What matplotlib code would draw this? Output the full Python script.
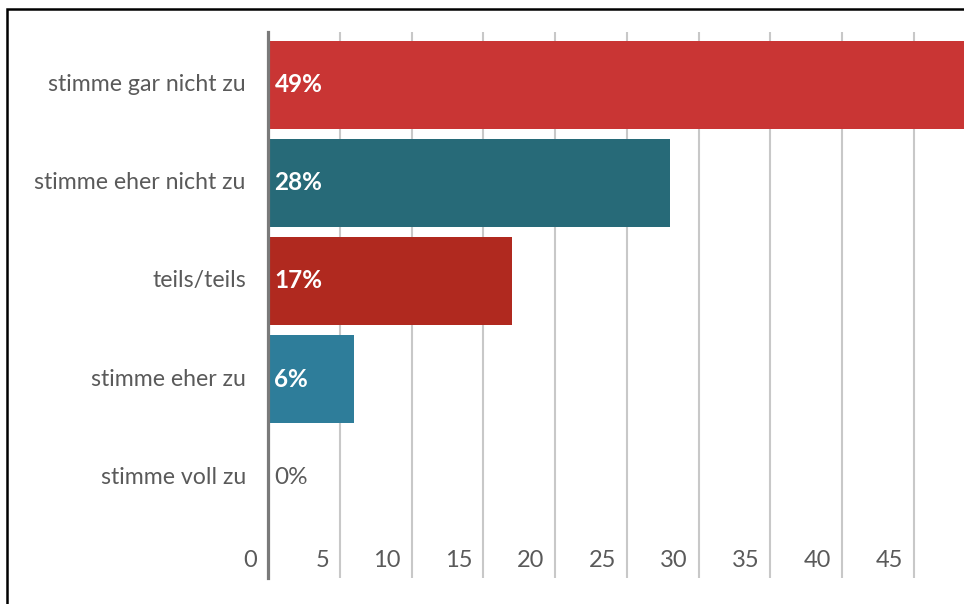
import matplotlib
matplotlib.use("Agg")
import matplotlib.pyplot as plt
from matplotlib.patches import Rectangle
from matplotlib.transforms import blended_transform_factory

# Datos
categorias = ["stimme gar nicht zu", "stimme eher nicht zu", "teils/teils",
              "stimme eher zu", "stimme voll zu"]
valores = [49, 28, 17, 6, 0]
etiquetas = ["49%", "28%", "17%", "6%", "0%"]
colores = ["#C93534", "#276A78", "#B0291F", "#2E7D9A", "#2E7D9A"]
ticks_x = [0, 5, 10, 15, 20, 25, 30, 35, 40, 45]

plt.rcParams["font.family"] = ["Lato", "DejaVu Sans"]
gris = "#5a5a5a"

fig = plt.figure(figsize=(9.64, 6.04), dpi=100)
ax = fig.add_axes([268 / 964, 26 / 604, 1 - 268 / 964, 546 / 604])

# Marco negro (captura recortada)
fig.patches.append(Rectangle((7 / 964, -0.1), 1.2, 1 - 9 / 604 + 0.1,
                             transform=fig.transFigure, fill=False,
                             edgecolor="black", linewidth=1.8, zorder=0))

pos = list(range(len(categorias)))
ax.barh(pos, valores, height=0.89, color=colores, zorder=2)

ax.set_xlim(0, 48.5)
ax.set_ylim(len(categorias) - 1 + 1.03, -0.54)

# Rejilla vertical
for t in ticks_x[1:]:
    ax.axvline(t, color="#c8c8c8", linewidth=1.5, zorder=1)
ax.axvline(0, color="#7a7a7a", linewidth=2.3, zorder=3, clip_on=False)

# Etiquetas del eje x dentro del área, a la izquierda de cada línea
trans = blended_transform_factory(ax.transData, ax.transAxes)
for t in ticks_x:
    ax.text(t - 0.75, 0.012, str(t), transform=trans, ha="right", va="bottom",
            fontsize=17, color=gris)

# Etiquetas de categorías
for p, c in zip(pos, categorias):
    ax.text(-1.55, p, c, ha="right", va="center", fontsize=16.7, color=gris,
            clip_on=False)

# Valores dentro de las barras
for p, v, e in zip(pos, valores, etiquetas):
    col = "white" if v > 0 else gris
    peso = "bold" if v > 0 else "normal"
    ax.text(0.45, p, e, ha="left", va="center", fontsize=17.5, color=col,
            fontweight=peso, zorder=4)

ax.set_xticks([])
ax.set_yticks([])
for s in ax.spines.values():
    s.set_visible(False)

fig.savefig("out.png", dpi=100)
